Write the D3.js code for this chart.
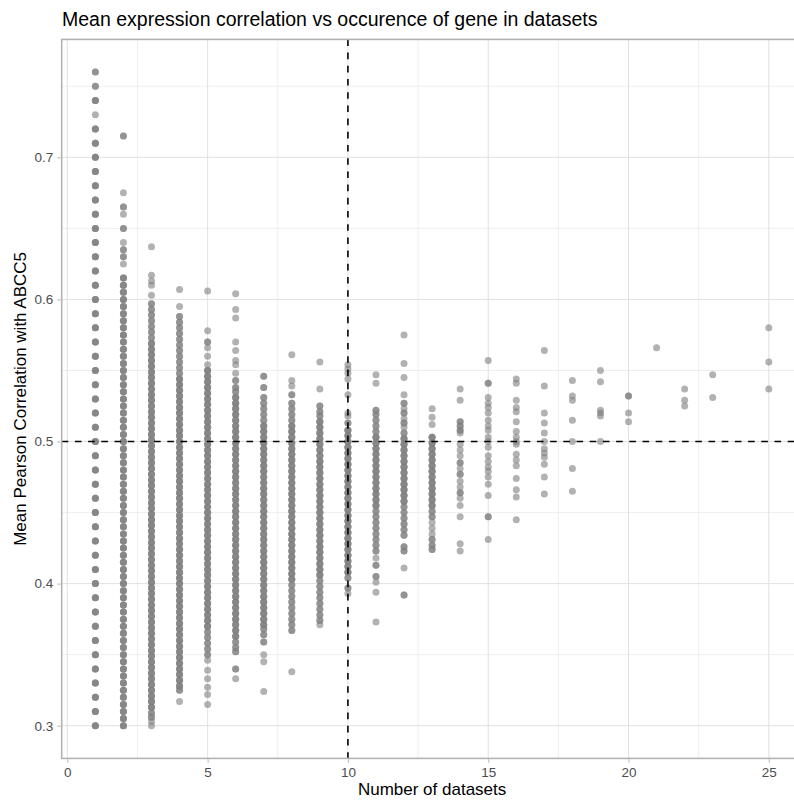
<!DOCTYPE html>
<html>
<head>
<meta charset="utf-8">
<script src="https://cdnjs.cloudflare.com/ajax/libs/d3/7.8.5/d3.min.js"></script>
<style>
  body { margin: 0; background: #fff; }
  svg { display: block; font-family: "Liberation Sans", Arial, sans-serif; }
</style>
</head>
<body>
<div id="chart"></div>
<script>
// number of datasets a gene occurs in (x) and the mean correlations seen for it.
// each token is a correlation in thousandths, "v*n" = n genes at that value
var datasets = [1, 2, 3, 4, 5, 6, 7, 8, 9, 10, 11, 12, 13, 14, 15, 16, 17, 18, 19, 20, 21, 22, 23, 25];
var correlations = [
	// 1
	"760*2 750*2 740*3 730 720*3 710*3 700*3 690*3 680*3 670*3 660*3 650*3 640*3 630*3 620*3 610*3 600*3 590*3 580*3 570*3 560*3 550*3 540*3 530*3 520*3 510*3 500*3 490*3 480*3 470*3 460*3 450*3 440*3 430*3 420*3 410*3 400*3 390*3 380*3 370*3 360*3 350*3 340*3 330*3 320*3 310*3 300*3",
	// 2
	"715*2 675 665*2 660 650*2 640 635*2 630*2 625 615*3 610*3 605*3 600*3 595*3 590*3 585*3 580*3 575*3 570*3 565*3 560*3 555*3 550*3 545*3 540*3 535*3 530*3 525*3 520*3 515*3 510*3 505*3 500*3 495*3 490*3 485*3 480*3 475*3 470*3 465*3 460*3 455*3 450*3 445*3 440*3 435*3 430*3 425*3 420*3 415*3 410*3 405*3 400*3 395*3 390*3 385*3 380*3 375*3 370*3 365*3 360*3 355*3 350*3 345*3 340*3 335*3 330*3 325*3 320*3 315*3 310*3 305*3 300*3",
	// 3
	"637 617 613 610 603 597*2 593*2 589*2 585*2 581*2 577*2 573*2 569*3 565*3 561*3 557*3 553*3 549*3 545*3 541*3 537*3 533*3 529*3 525*3 521*3 517*3 513*3 509*3 505*3 501*3 497*3 493*3 489*3 485*3 481*3 477*3 473*3 469*3 465*3 461*3 457*3 453*3 449*3 445*3 441*3 437*3 433*3 429*3 425*3 421*3 417*3 413*3 409*3 405*3 401*3 397*3 393*3 389*3 385*3 381*3 377*3 373*3 369*3 365*3 361*3 357*3 353*3 349*3 345*3 341*3 337*3 333*3 329*3 325*3 321*3 317*3 313*3 309*2 306*2 303 300",
	// 4
	"607 595 588*2 584*2 580*2 576*2 572*2 568*2 564*2 560*2 556*2 552*2 548*2 544*3 540*3 536*3 532*3 528*3 524*3 520*3 516*3 512*3 508*3 504*3 500*3 496*3 492*3 488*3 484*3 480*3 476*3 472*3 468*3 464*3 460*3 456*3 452*3 448*3 444*3 440*3 436*3 432*3 428*3 424*3 420*3 416*3 412*3 408*3 404*3 400*3 396*3 392*3 388*3 384*3 380*3 376*3 372*3 368*3 364*3 360*3 356*3 352*3 348*3 344*3 340*3 336*3 332*3 328*3 325*2 317",
	// 5
	"606 578 570*2 566 560 554 550*3 546*3 542*3 538*3 534*3 530*3 526*3 522*3 518*3 514*3 510*3 506*3 502*3 498*3 494*3 490*3 486*3 482*3 478*3 474*3 470*3 466*3 462*3 458*3 454*3 450*3 446*3 442*3 438*3 434*3 430*3 426*3 422*3 418*3 414*3 410*3 406*3 402*3 398*3 394*3 390*3 386*3 382*3 378*3 374*3 370*3 366*2 362*2 358*2 354*2 350*2 346 339 333 327 322 315",
	// 6
	"604 593 587 570 564 557 554 548 543*2 538*2 535*2 531*3 527*3 523*3 519*3 515*3 511*3 507*3 503*3 499*3 495*3 491*3 487*3 483*3 479*3 475*3 471*3 467*3 463*3 459*3 455*3 451*3 447*3 443*3 439*3 435*3 431*3 427*3 423*3 419*3 415*3 411*3 407*3 403*3 399*3 395*3 391*3 387*3 383*3 379*3 375*3 371*3 367*3 363*3 359*2 355*2 352*2 340*2 333",
	// 7
	"546*2 538*2 531*2 527*2 523*2 519*2 515*2 511*3 507*3 503*3 499*3 495*3 491*3 487*3 483*3 479*3 475*3 471*3 467*3 463*3 459*3 455*3 451*3 447*3 443*3 439*3 435*3 431*3 427*3 423*3 419*3 415*3 411*3 407*3 403*3 399*3 395*3 391*3 387*3 383*3 379*3 375*3 371*3 368*2 364*2 359*2 350 345 324",
	// 8
	"561 543 539 533*2 527*2 523*2 519*2 515*2 511*3 507*3 503*3 499*3 495*3 491*3 487*3 483*3 479*3 475*3 471*3 467*3 463*3 459*3 455*3 451*3 447*3 443*3 439*3 435*3 431*3 427*3 423*3 419*3 415*3 411*3 407*3 403*3 399*2 395*2 391*2 387*2 383*2 379*2 375*2 371*2 367*2 338",
	// 9
	"556 537 525*2 521*2 518*2 514*3 510*3 506*3 502*3 498*3 494*3 490*3 486*3 482*3 478*3 474*3 470*3 466*3 462*3 458*3 454*3 450*3 446*3 442*3 438*3 434*3 430*3 426*3 422*3 418*3 414*3 410*3 406*3 402*2 398*2 394*2 390*2 386*2 382*2 378*2 374*2 371",
	// 10
	"554 551 548 544 533 520 518 513*2 508*3 504*3 500*3 496*3 492*3 488*3 484*3 480*3 476*3 472*3 468*3 464*3 460*3 456*3 452*3 448*3 444*3 440*3 436*3 432*3 428*3 424*3 420*3 416*3 412*3 408*3 404*2 397*2 393",
	// 11
	"547 541 522*2 519*2 515*2 511*2 507*2 503*3 499*3 495*3 491*3 487*3 483*3 479*3 475*3 471*3 467*3 463*3 459*3 455*3 451*2 447*2 443*2 439*2 435*2 431*2 427*2 423*2 418 413*2 405*2 401 394 373",
	// 12
	"575 555 545 533 527*2 523 520*2 516 513*2 510 506*2 502*3 498*3 494*3 490*3 486*3 482*3 478*3 474*3 470*3 466*3 462*3 458*3 454*2 450*2 446*2 442*2 438*2 434*2 426*2 423*2 411 392*2",
	// 13
	"523 517 512 503*3 499*3 495*3 491*3 487*3 483*3 479*3 475*3 471*3 467*3 463*3 459*3 455*3 451*2 447*2 443 439 435 431*2 427*2 424*2",
	// 14
	"537 529 514*2 511*2 508*2 506 498 494 490 485*2 481 477*2 472 468 464*2 460 455 447 428 423",
	// 15
	"557 541*2 531 527 524 520 515 511 508 503 500 496 490 486 482 479 475 470 462 447*2 431",
	// 16
	"544 541 529 524 521 514 507 503 500 498 491 487 483 474 466 461 445",
	// 17
	"564 539 520 513 506 500 495 492 489 484 475 463",
	// 18
	"543 532 529 515 500 481 465",
	// 19
	"550 542 522 520 518 500",
	// 20
	"532*2 520 514",
	// 21
	"566",
	// 22
	"537 529 525",
	// 23
	"547 531",
	// 25
	"580 556 537"
];
var xTicks = [0, 5, 10, 15, 20, 25];
var xMinor = [2.5, 7.5, 12.5, 17.5, 22.5];
var yTicks = [0.3, 0.4, 0.5, 0.6, 0.7];
var yMinor = [0.35, 0.45, 0.55, 0.65, 0.75];
var xCut = 10, yCut = 0.5;

var points = [];
datasets.forEach(function(n, i) {
	correlations[i].split(" ").forEach(function(tok) {
		var p = tok.split("*"),
			v = +p[0] / 1000,
			c = p.length > 1 ? +p[1] : 1;
		for (var k = 0; k < c; k++) points.push({ x: n, y: v });
	});
});

var width = 794, height = 800;
var panel = { left: 61.7, right: 802.5, top: 39.4, bottom: 758.4 };

var svg = d3.select("#chart").append("svg")
	.attr("width", width)
	.attr("height", height);

var xExt = d3.extent(points, function(d) { return d.x; }),
	yExt = d3.extent(points, function(d) { return d.y; }),
	xPad = (xExt[1] - xExt[0]) * 0.05,
	yPad = (yExt[1] - yExt[0]) * 0.05;

var x = d3.scaleLinear()
	.domain([xExt[0] - xPad, xExt[1] + xPad])
	.range([panel.left, panel.right]);
var y = d3.scaleLinear()
	.domain([yExt[0] - yPad, yExt[1] + yPad])
	.range([panel.bottom, panel.top]);

svg.append("clipPath").attr("id", "clip")
	.append("rect")
	.attr("x", panel.left).attr("y", panel.top)
	.attr("width", panel.right - panel.left)
	.attr("height", panel.bottom - panel.top);

// grid
var grid = svg.append("g").attr("clip-path", "url(#clip)");
grid.selectAll(".xminor").data(xMinor).enter().append("line")
	.attr("x1", x).attr("x2", x)
	.attr("y1", panel.top).attr("y2", panel.bottom)
	.attr("stroke", "#dedede").attr("stroke-width", 0.5);
grid.selectAll(".yminor").data(yMinor).enter().append("line")
	.attr("y1", y).attr("y2", y)
	.attr("x1", panel.left).attr("x2", panel.right)
	.attr("stroke", "#dedede").attr("stroke-width", 0.5);
grid.selectAll(".xmajor").data(xTicks).enter().append("line")
	.attr("x1", x).attr("x2", x)
	.attr("y1", panel.top).attr("y2", panel.bottom)
	.attr("stroke", "#dedede").attr("stroke-width", 0.9);
grid.selectAll(".ymajor").data(yTicks).enter().append("line")
	.attr("y1", y).attr("y2", y)
	.attr("x1", panel.left).attr("x2", panel.right)
	.attr("stroke", "#dedede").attr("stroke-width", 0.9);

// points
grid.append("g").selectAll("circle")
	.data(points)
	.enter().append("circle")
	.attr("cx", function(d) { return x(d.x); })
	.attr("cy", function(d) { return y(d.y); })
	.attr("r", 3.5)
	.attr("fill", "#7f7f7f")
	.attr("fill-opacity", 0.6);

// reference lines
grid.append("line")
	.attr("x1", x(xCut)).attr("x2", x(xCut))
	.attr("y1", panel.top).attr("y2", panel.bottom)
	.attr("stroke", "#000").attr("stroke-width", 1.6)
	.attr("stroke-dasharray", "6.6,6.6");
grid.append("line")
	.attr("x1", panel.left).attr("x2", panel.right)
	.attr("y1", y(yCut)).attr("y2", y(yCut))
	.attr("stroke", "#000").attr("stroke-width", 1.6)
	.attr("stroke-dasharray", "6.6,6.6");

// border
svg.append("rect")
	.attr("x", panel.left).attr("y", panel.top)
	.attr("width", panel.right - panel.left)
	.attr("height", panel.bottom - panel.top)
	.attr("fill", "none")
	.attr("stroke", "#b3b3b3")
	.attr("stroke-width", 1.6);

// axes
var xAxis = d3.axisBottom(x).tickValues(xTicks).tickSize(3.7).tickPadding(5).tickFormat(d3.format("d"));
var yAxis = d3.axisLeft(y).tickValues(yTicks).tickSize(3.7).tickPadding(4).tickFormat(d3.format(".1f"));

var gx = svg.append("g")
	.attr("transform", "translate(0," + (panel.bottom + 0.8) + ")")
	.call(xAxis);
var gy = svg.append("g")
	.attr("transform", "translate(" + (panel.left - 0.8) + ",0)")
	.call(yAxis);

[gx, gy].forEach(function(g) {
	g.select(".domain").remove();
	g.selectAll(".tick line").attr("stroke", "#b3b3b3").attr("stroke-width", 0.9);
	g.selectAll(".tick text")
		.attr("fill", "#4d4d4d")
		.style("font-size", "13.5px")
		.style("font-family", "\"Liberation Sans\", Arial, sans-serif");
});

// titles
svg.append("text")
	.attr("x", 62)
	.attr("y", 26)
	.style("font-size", "19.5px")
	.attr("fill", "#000")
	.text("Mean expression correlation vs occurence of gene in datasets");

svg.append("text")
	.attr("x", (panel.left + panel.right) / 2)
	.attr("y", 795)
	.attr("text-anchor", "middle")
	.style("font-size", "17px")
	.attr("fill", "#000")
	.text("Number of datasets");

svg.append("text")
	.attr("transform", "translate(25.5," + ((panel.top + panel.bottom) / 2) + ") rotate(-90)")
	.attr("text-anchor", "middle")
	.style("font-size", "17px")
	.attr("fill", "#000")
	.text("Mean Pearson Correlation with ABCC5");
</script>
</body>
</html>
